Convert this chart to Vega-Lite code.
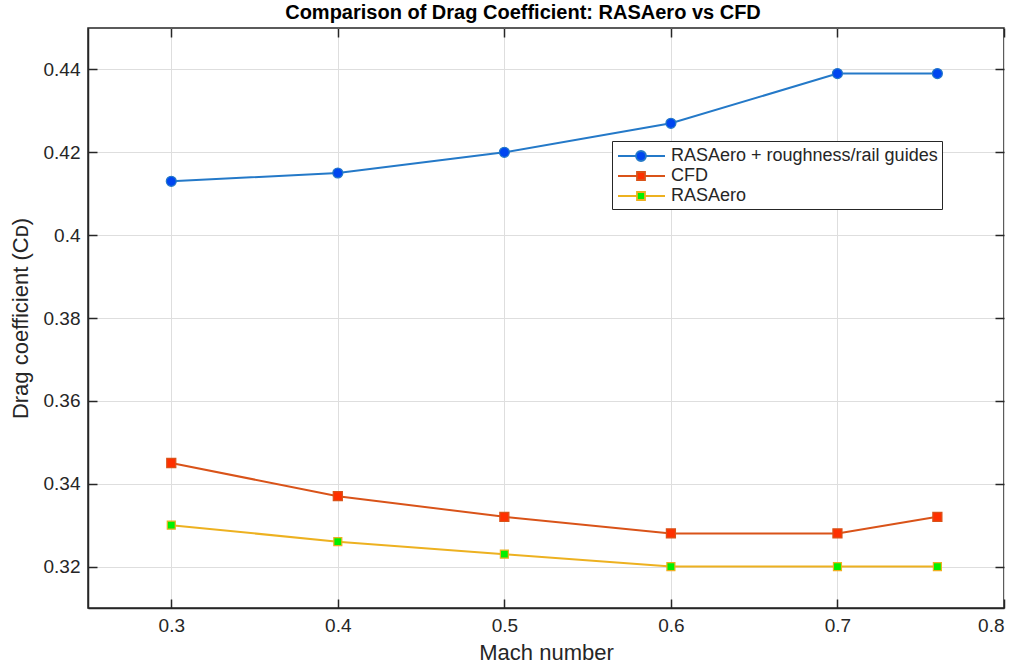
{
  "$schema": "https://vega.github.io/schema/vega-lite/v6.json",
  "width": 916,
  "height": 580,
  "autosize": {"type": "none"},
  "padding": {"left": 88, "top": 28, "right": 18, "bottom": 58},
  "background": "white",
  "title": {"text": "Comparison of Drag Coefficient: RASAero vs CFD", "font": "Liberation Sans", "fontSize": 20, "fontWeight": "bold", "color": "#000000", "offset": 4, "anchor": "middle", "dx": -23},
  "config": {
    "view": {"stroke": "#262626", "strokeWidth": 1.5},
    "font": "Liberation Sans",
    "axis": {"labelFont": "Liberation Sans", "labelFontSize": 19, "labelColor": "#262626", "titleFont": "Liberation Sans", "titleFontSize": 22, "titleFontWeight": "normal", "titleColor": "#262626", "gridColor": "#dedede", "gridWidth": 1, "domainColor": "#262626", "domainWidth": 1.5, "tickColor": "#262626", "tickWidth": 1.5, "tickSize": -9},
    "legend": {"labelFont": "Liberation Sans", "labelFontSize": 18, "labelColor": "#262626", "labelLimit": 0}
  },
  "data": {"values": [
    {"mach": 0.3, "cd": 0.413, "series": "RASAero + roughness/rail guides"},
    {"mach": 0.4, "cd": 0.415, "series": "RASAero + roughness/rail guides"},
    {"mach": 0.5, "cd": 0.420, "series": "RASAero + roughness/rail guides"},
    {"mach": 0.6, "cd": 0.427, "series": "RASAero + roughness/rail guides"},
    {"mach": 0.7, "cd": 0.439, "series": "RASAero + roughness/rail guides"},
    {"mach": 0.76, "cd": 0.439, "series": "RASAero + roughness/rail guides"},
    {"mach": 0.3, "cd": 0.345, "series": "CFD"},
    {"mach": 0.4, "cd": 0.337, "series": "CFD"},
    {"mach": 0.5, "cd": 0.332, "series": "CFD"},
    {"mach": 0.6, "cd": 0.328, "series": "CFD"},
    {"mach": 0.7, "cd": 0.328, "series": "CFD"},
    {"mach": 0.76, "cd": 0.332, "series": "CFD"},
    {"mach": 0.3, "cd": 0.330, "series": "RASAero"},
    {"mach": 0.4, "cd": 0.326, "series": "RASAero"},
    {"mach": 0.5, "cd": 0.323, "series": "RASAero"},
    {"mach": 0.6, "cd": 0.320, "series": "RASAero"},
    {"mach": 0.7, "cd": 0.320, "series": "RASAero"},
    {"mach": 0.76, "cd": 0.320, "series": "RASAero"}
  ]},
  "resolve": {"axis": {"x": "independent", "y": "independent"}, "scale": {"shape": "independent"}, "legend": {"color": "independent", "fill": "independent", "shape": "independent", "stroke": "independent"}},
  "layer": [
    {
      "mark": {"type": "line", "strokeWidth": 2},
      "encoding": {
        "x": {"field": "mach", "type": "quantitative", "scale": {"domain": [0.25, 0.8], "nice": false, "zero": false}, "axis": {"values": [0.3, 0.4, 0.5, 0.6, 0.7, 0.8], "format": ".1~f", "title": "Mach number", "labelPadding": 17, "titleY": 34, "grid": true}},
        "y": {"field": "cd", "type": "quantitative", "scale": {"domain": [0.31, 0.45], "nice": false, "zero": false}, "axis": {"values": [0.32, 0.34, 0.36, 0.38, 0.4, 0.42, 0.44], "format": ".2~f", "title": "Drag  coefficient  (Cᴅ)", "labelPadding": 17, "titleX": -56, "grid": true}},
        "stroke": {"field": "series", "type": "nominal", "scale": {"domain": ["RASAero + roughness/rail guides", "CFD", "RASAero"], "range": ["#2479C8", "#D95319", "#EDB120"]}, "legend": null},
        "detail": {"field": "series"}
      }
    },
    {
      "mark": {"type": "point", "filled": false, "strokeWidth": 1.2, "opacity": 1},
      "encoding": {
        "x": {"field": "mach", "type": "quantitative", "axis": null},
        "y": {"field": "cd", "type": "quantitative", "axis": null},
        "stroke": {"field": "series", "type": "nominal", "legend": null},
        "fill": {"field": "series", "type": "nominal", "scale": {"domain": ["RASAero + roughness/rail guides", "CFD", "RASAero"], "range": ["#0046F0", "#FF3000", "#00F000"]}, "legend": null},
        "shape": {"field": "series", "type": "nominal", "scale": {"domain": ["RASAero + roughness/rail guides", "CFD", "RASAero"], "range": ["circle", "square", "square"]}, "legend": null},
        "size": {"field": "series", "type": "nominal", "scale": {"domain": ["RASAero + roughness/rail guides", "CFD", "RASAero"], "range": [100, 64, 64]}, "legend": null}
      }
    },
    {
      "transform": [{"filter": "datum.mach > 1"}],
      "mark": {"type": "point", "filled": false, "strokeWidth": 1.8, "opacity": 1},
      "encoding": {
        "x": {"field": "mach", "type": "quantitative", "axis": {"orient": "top", "values": [0.3, 0.4, 0.5, 0.6, 0.7, 0.8], "labels": false, "title": null, "grid": false, "domain": false}},
        "y": {"field": "cd", "type": "quantitative", "axis": {"orient": "right", "values": [0.32, 0.34, 0.36, 0.38, 0.4, 0.42, 0.44], "labels": false, "title": null, "grid": false, "domain": false}},
        "stroke": {"field": "series", "type": "nominal",
          "legend": {"title": null, "orient": "none", "legendX": 524, "legendY": 113, "strokeColor": "#262626", "fillColor": "white", "padding": 4, "symbolSize": 400, "symbolStrokeWidth": 1.8, "rowPadding": 0, "labelOffset": 33}},
        "fill": {"field": "series", "type": "nominal", "legend": {"title": null, "orient": "none", "legendX": 524, "legendY": 113, "strokeColor": "#262626", "fillColor": "white", "padding": 4, "symbolSize": 400, "symbolStrokeWidth": 1.8, "rowPadding": 0, "labelOffset": 33}},
        "shape": {"field": "series", "type": "nominal", "scale": {"domain": ["RASAero + roughness/rail guides", "CFD", "RASAero"], "range": ["M-0.9,0H0.9M1.9,0H3.8M0.9,0A0.5,0.5,0,1,0,1.9,0A0.5,0.5,0,1,0,0.9,0Z", "M-0.9,0H1M1.8,0H3.8M1,-0.4H1.8V0.4H1Z", "M-0.9,0H1M1.8,0H3.8M1,-0.4H1.8V0.4H1Z"]},
          "legend": {"title": null, "orient": "none", "legendX": 524, "legendY": 113, "strokeColor": "#262626", "fillColor": "white", "padding": 4, "symbolSize": 400, "symbolStrokeWidth": 1.8, "rowPadding": 0, "labelOffset": 33}}
      }
    }
  ]
}
